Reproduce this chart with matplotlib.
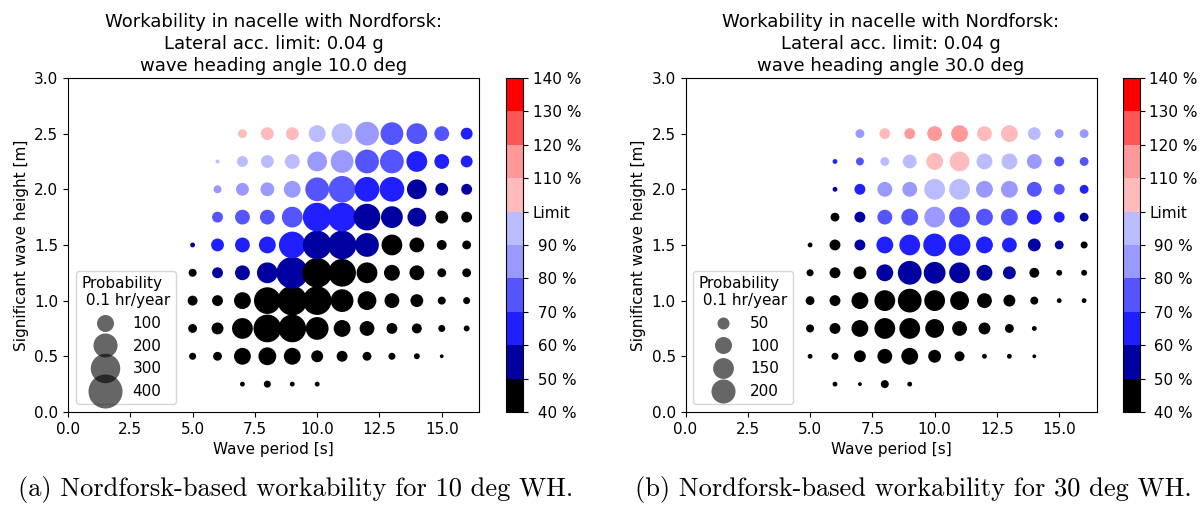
import numpy as np
import matplotlib
matplotlib.use("Agg")
import matplotlib.pyplot as plt
from matplotlib.colors import ListedColormap, BoundaryNorm
from matplotlib.lines import Line2D

# wave period [s] (columns) and significant wave height [m] (rows, bottom -> top)
periods = [5, 6, 7, 8, 9, 10, 11, 12, 13, 14, 15, 16]
heights = [0.25, 0.5, 0.75, 1.0, 1.25, 1.5, 1.75, 2.0, 2.25, 2.5]

# probability, 0.1 hr/year  (0 = no point)
prob_10 = [
    [0, 0, 8, 17, 8, 8, 0, 0, 0, 0, 0, 0],
    [17, 27, 98, 110, 98, 49, 41, 27, 17, 12, 5, 0],
    [27, 49, 149, 265, 265, 179, 98, 76, 41, 34, 17, 12],
    [34, 41, 98, 246, 304, 284, 179, 122, 76, 57, 22, 17],
    [22, 41, 76, 149, 346, 304, 265, 149, 87, 76, 27, 27],
    [8, 57, 76, 98, 246, 284, 284, 195, 149, 76, 34, 27],
    [0, 41, 76, 76, 149, 284, 284, 246, 164, 122, 57, 41],
    [0, 22, 57, 66, 98, 195, 246, 211, 211, 135, 57, 41],
    [0, 5, 41, 57, 76, 135, 179, 195, 195, 149, 76, 49],
    [0, 0, 27, 57, 57, 98, 149, 195, 179, 149, 76, 49],
]
# workability (% of limit)
work_10 = [
    [45, 45, 45, 45, 45, 45, 45, 45, 45, 45, 45, 45],
    [45, 45, 45, 45, 45, 45, 45, 45, 45, 45, 45, 45],
    [45, 45, 45, 45, 45, 45, 45, 45, 45, 45, 45, 45],
    [45, 45, 45, 45, 45, 45, 45, 45, 45, 45, 45, 45],
    [45, 55, 55, 55, 55, 45, 45, 45, 45, 45, 45, 45],
    [55, 65, 65, 65, 65, 55, 55, 55, 45, 45, 45, 45],
    [75, 75, 75, 75, 75, 65, 65, 55, 55, 55, 45, 45],
    [85, 85, 85, 85, 85, 75, 75, 65, 65, 55, 55, 55],
    [95, 95, 95, 95, 95, 85, 85, 75, 75, 65, 65, 65],
    [105, 105, 105, 105, 105, 95, 95, 85, 75, 75, 75, 65],
]

prob_30 = [
    [0, 8, 5, 22, 8, 0, 0, 0, 0, 0, 0, 0],
    [8, 17, 49, 76, 98, 57, 34, 8, 8, 5, 0, 0],
    [22, 41, 98, 149, 149, 122, 76, 49, 27, 8, 0, 0],
    [27, 41, 98, 149, 195, 149, 122, 76, 49, 22, 8, 8],
    [17, 41, 57, 98, 195, 164, 149, 87, 57, 34, 12, 12],
    [8, 41, 41, 98, 149, 179, 164, 98, 76, 57, 27, 17],
    [0, 27, 41, 76, 98, 149, 149, 98, 98, 76, 41, 27],
    [0, 8, 41, 76, 76, 149, 149, 98, 98, 76, 41, 27],
    [0, 8, 22, 27, 66, 98, 135, 87, 87, 76, 34, 27],
    [0, 0, 27, 41, 41, 76, 98, 76, 98, 57, 27, 27],
]
work_30 = [
    [45, 45, 45, 45, 45, 45, 45, 45, 45, 45, 45, 45],
    [45, 45, 45, 45, 45, 45, 45, 45, 45, 45, 45, 45],
    [45, 45, 45, 45, 45, 45, 45, 45, 45, 45, 45, 45],
    [45, 45, 45, 45, 45, 45, 45, 45, 45, 45, 45, 45],
    [45, 45, 45, 55, 55, 55, 55, 55, 55, 45, 45, 45],
    [45, 45, 55, 65, 65, 65, 65, 65, 65, 55, 55, 45],
    [45, 45, 55, 75, 75, 85, 75, 75, 75, 65, 65, 55],
    [55, 55, 65, 85, 85, 95, 95, 85, 85, 75, 75, 65],
    [65, 65, 75, 95, 95, 105, 105, 95, 95, 85, 75, 75],
    [85, 85, 85, 105, 115, 115, 115, 105, 105, 95, 85, 85],
]

legend_10 = [100, 200, 300, 400]
legend_30 = [50, 100, 150, 200]
angles = [10.0, 30.0]
captions = ["(a) Nordforsk-based workability for 10 deg WH.",
            "(b) Nordforsk-based workability for 30 deg WH."]

bounds = [40, 50, 60, 70, 80, 90, 100, 110, 120, 130, 140]
colors = ["#000000", "#0000a0", "#2020ff", "#5555ff", "#9999ff", "#bbbbff",
          "#ffbbbb", "#ff9999", "#ff5555", "#ff0000"]
cmap = ListedColormap(colors)
norm = BoundaryNorm(bounds, cmap.N)
size_scale = 1.5  # marker area (pt^2) per 0.1 hr/year

fig = plt.figure(figsize=(12.02, 5.13), dpi=100)

panels = [
    (prob_10, work_10, legend_10, 0.0566, 0.421, 0.246),
    (prob_30, work_30, legend_30, 0.5703, 0.934, 0.760),
]

for i, (prob, work, leg_vals, x0, cx0, capx) in enumerate(panels):
    ax = fig.add_axes([x0, 0.197, 0.342, 0.651])
    cax = fig.add_axes([cx0, 0.197, 0.0141, 0.651])

    T, H = np.meshgrid(periods, heights)
    P = np.array(prob, dtype=float)
    W = np.array(work, dtype=float)
    m = P > 0
    sc = ax.scatter(T[m], H[m], s=P[m] * size_scale, c=W[m], cmap=cmap, norm=norm,
                    edgecolors="none")

    ax.set_xlim(0, 16.5)
    ax.set_ylim(0, 3.0)
    ax.set_xticks([0, 2.5, 5, 7.5, 10, 12.5, 15])
    ax.set_yticks(np.arange(0, 3.01, 0.5))
    ax.tick_params(labelsize=11)
    ax.set_xlabel("Wave period [s]", fontsize=11)
    ax.set_ylabel("Significant wave height [m]", fontsize=11)
    ax.set_title("Workability in nacelle with Nordforsk:\nLateral acc. limit: 0.04 g\n"
                 "wave heading angle %.1f deg" % angles[i], fontsize=13, linespacing=1.28,
                 pad=5)

    handles = [Line2D([], [], marker="o", linestyle="none", markersize=np.sqrt(v * size_scale),
                      markerfacecolor=(0, 0, 0, 0.6), markeredgecolor="none")
               for v in leg_vals]
    ax.legend(handles, [str(v) for v in leg_vals], title="Probability\n 0.1 hr/year",
              loc="lower left", fontsize=11, title_fontsize=11, labelspacing=0.5,
              handletextpad=0.8, borderpad=0.35)

    cb = fig.colorbar(sc, cax=cax, boundaries=bounds, ticks=bounds)
    cb.ax.set_yticklabels(["Limit" if b == 100 else "%3d %%" % b for b in bounds])
    cb.ax.tick_params(labelsize=11)
    cb.outline.set_linewidth(0.8)

    fig.text(capx, 0.045, captions[i], ha="center", va="center",
             fontsize=19, family="cmr10")

fig.savefig("out.png", dpi=100)
